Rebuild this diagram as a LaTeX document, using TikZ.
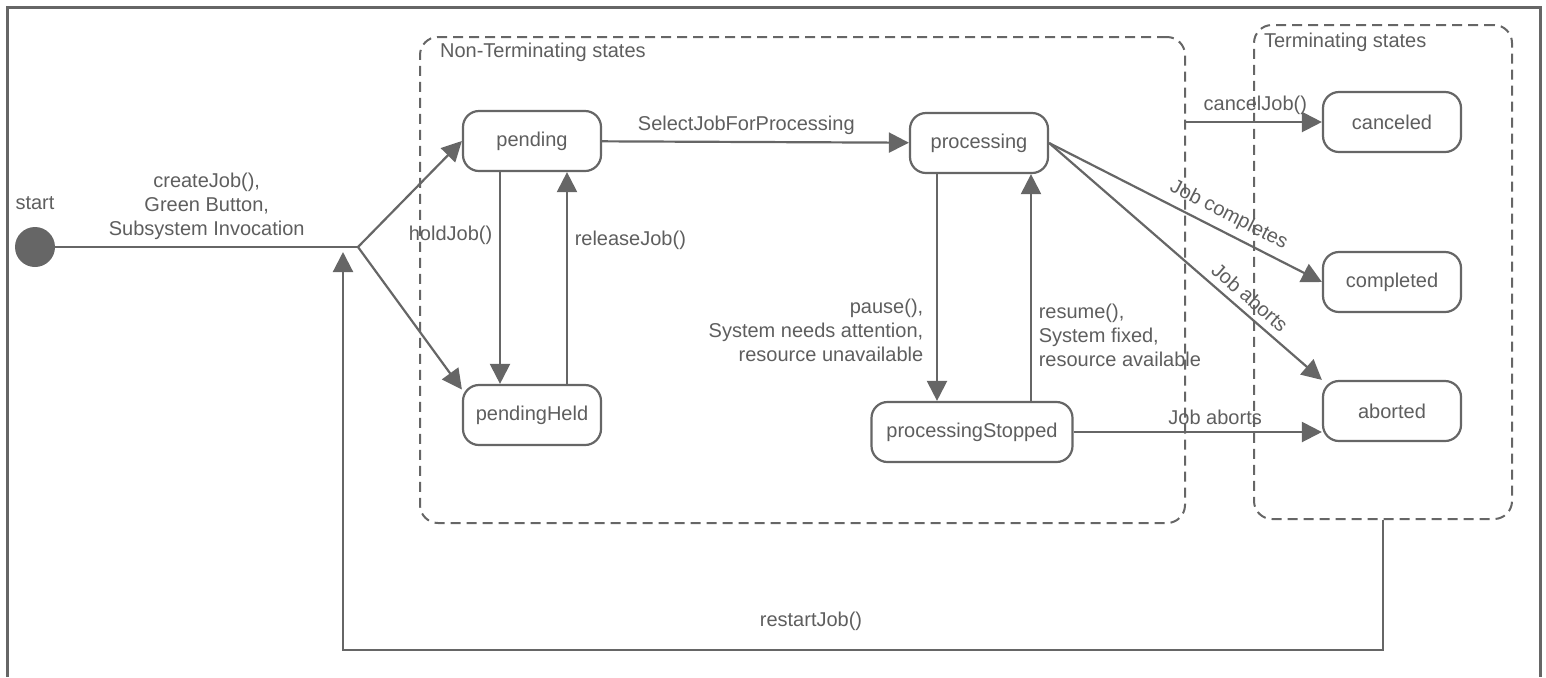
\documentclass[tikz,border=0pt]{standalone}
\usepackage{fontspec}
\setmainfont{Liberation Sans}
\usetikzlibrary{arrows.meta}
\usepackage{xcolor}
\definecolor{linegray}{HTML}{666666}
\definecolor{textgray}{HTML}{5E5E5E}

\begin{document}
\begin{tikzpicture}[x=0.5pt,y=-0.5pt]
    \useasboundingbox (0,0) rectangle (1546,677);
    \draw[linegray,line width=1.5pt] (7,677) -- (7,7) -- (1540,7) -- (1540,677);

    \begin{scope}[every node/.style={draw=linegray,line width=1pt,dash pattern=on 5pt off 3pt,rounded corners=9pt}]
      \node[minimum width=382.5pt,minimum height=243pt] (nonterm) at (802.5,280) {};
      \node[minimum width=129pt,minimum height=247pt] (term) at (1383,272) {};
    \end{scope}

    \begin{scope}[every node/.style={text=textgray,font=\fontsize{10}{12}\selectfont,anchor=north west}]
      \node[xshift=7pt] (ntname) at (nonterm.north west) {Non-Terminating states};
      \node[xshift=2pt,yshift=-1pt] (tname) at (term.north west) {Terminating states};
    \end{scope}

    \begin{scope}[every node/.style={rectangle,rounded corners=8pt,draw=linegray,line width=1.1pt,fill=white,
        text=textgray,font=\fontsize{10}{12}\selectfont,minimum width=69pt,minimum height=30pt}]
      \node (pend) at (532,141) {pending};
      \node (held) at (532,415) {pendingHeld};
      \node (proc) at (979,143) {processing};
      \node[minimum width=100.5pt] (stop) at (972,432) {processingStopped};
      \node (canc) at (1392,122) {canceled};
      \node (compl) at (1392,282) {completed};
      \node (abort) at (1392,411) {aborted};
    \end{scope}

    \node[circle,fill=linegray,minimum size=20pt,inner sep=0pt,
      label={[text=textgray,font=\fontsize{10}{12}\selectfont,label distance=5pt]above:start}] (start) at (35,247) {};
    \coordinate (fork) at (358,247);
    \coordinate (ret) at (343,252);

    \begin{scope}[>={Triangle[length=10pt,width=10pt]},
        every node/.style={text=textgray,font=\fontsize{10}{12}\selectfont},
        every edge/.style={draw=linegray,line width=1.1pt}]
      \path (start) edge node[above,align=center] {createJob(),\\Green Button,\\Subsystem Invocation} (fork);
      \path [->] (fork) edge (pend.west);
      \path [->] (fork) edge (held.160);
      \path [->] (pend) edge node[above,pos=0.47] {SelectJobForProcessing} (proc);
      \path [->] ([xshift=-16pt]pend.south) edge node[left,pos=0.3] {holdJob()} ([xshift=-16pt]held.north);
      \path [->] ([xshift=17.5pt]held.north) edge node[right,pos=0.68] {releaseJob()} ([xshift=17.5pt]pend.south);
      \path [->] ([xshift=-21pt]proc.south) edge node[left=3pt,pos=0.69,align=right] {pause(),\\System needs attention,\\resource unavailable} ([xshift=-17.5pt]stop.north);
      \path [->] ([xshift=29.5pt]stop.north) edge node[right,pos=0.29,align=left] {resume(),\\System fixed,\\resource available} ([xshift=26pt]proc.south);
      \path [->] (canc.west -| nonterm.east) edge node[above,pos=0.51] {cancelJob()} (canc.west);
      \path [->] (proc.east) edge node[sloped,above,pos=0.63] {Job completes} (compl.west);
      \path [->] (proc.east) edge node[sloped,above,pos=0.7] {Job aborts} (abort.north west);
      \path [->] (stop.east) edge node[above,pos=0.57] {Job aborts} (stop.east -| abort.west);
      \draw [->,linegray,line width=1.1pt] (term.south) -- ++(0,130) -| node[above=6pt,pos=0.275] {restartJob()} (ret);
    \end{scope}
\end{tikzpicture}
\end{document}
